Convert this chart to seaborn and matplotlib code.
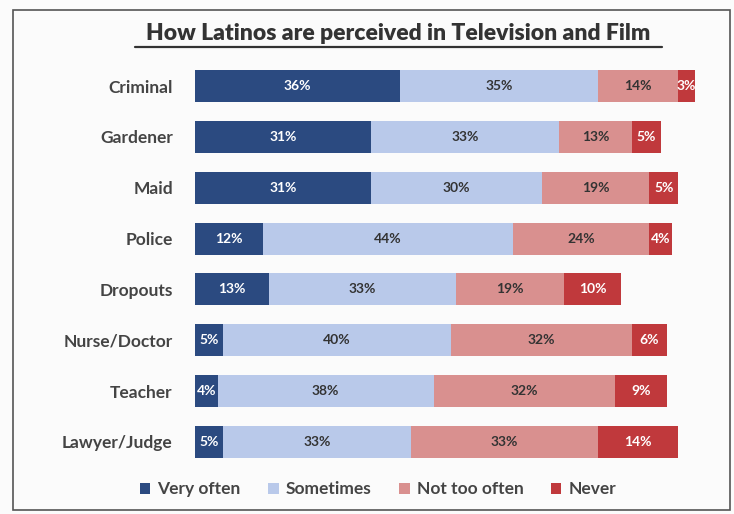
import numpy as np
import pandas as pd
import seaborn as sns
import matplotlib.pyplot as plt
from matplotlib.patches import Rectangle, Patch
from matplotlib.lines import Line2D

categories = ["Criminal", "Gardener", "Maid", "Police", "Dropouts",
              "Nurse/Doctor", "Teacher", "Lawyer/Judge"]
very_often = [36, 31, 31, 12, 13, 5, 4, 5]
sometimes = [35, 33, 30, 44, 33, 40, 38, 33]
not_too_often = [14, 13, 19, 24, 19, 32, 32, 33]
never = [3, 5, 5, 4, 10, 6, 9, 14]

series = ["Very often", "Sometimes", "Not too often", "Never"]
colors = ["#2b4a80", "#b9c9ea", "#d9908f", "#c0393c"]
text_colors = ["white", "#333333", "#333333", "white"]

sns.set_theme(style="white")
plt.rcParams['font.family'] = ['Lato', 'DejaVu Sans']

df = pd.DataFrame({"category": categories, "Very often": very_often,
                   "Sometimes": sometimes, "Not too often": not_too_often,
                   "Never": never})
cum = df[series].cumsum(axis=1)

fig = plt.figure(figsize=(7.34, 5.14), dpi=100)
fig.patch.set_facecolor("#fbfbfb")
ax = fig.add_axes([0.2657, 0.0907, 0.712, 0.7913])
ax.set_facecolor("#fbfbfb")

# stacked bars: draw cumulative totals from the back to the front
for i in reversed(range(len(series))):
    sns.barplot(x=cum[series[i]], y=df["category"], color=colors[i],
                orient="h", width=0.63, ax=ax, saturation=1, linewidth=0)

for i, s in enumerate(series):
    for j, v in enumerate(df[s]):
        center = cum[s][j] - v / 2
        ax.text(center, j, f"{v}%", ha="center", va="center",
                fontsize=10, fontweight="bold", color=text_colors[i])

ax.set_xlim(0, 92)
ax.set_ylim(7.5, -0.5)
ax.set_xlabel("")
ax.set_ylabel("")
ax.set_xticks([])
sns.despine(ax=ax, left=True, bottom=True)
ax.tick_params(axis="y", length=0, pad=16)
for lbl in ax.get_yticklabels():
    lbl.set_fontsize(12.5)
    lbl.set_fontweight("bold")
    lbl.set_color("#444444")

handles = [Patch(facecolor=c, edgecolor="none") for c in colors]
fig.legend(handles, series, loc="center", bbox_to_anchor=(0.515, 0.048),
           ncol=4, frameon=False, handlelength=0.6,
           handleheight=0.6, columnspacing=1.6, handletextpad=0.4,
           labelcolor="#444444", prop={"size": 12.5, "weight": "bold"})

fig.text(0.542, 0.935, "How Latinos are perceived in Television and Film",
         ha="center", va="center", fontsize=16.5, fontweight="heavy",
         color="#333333")
fig.add_artist(Line2D([0.184, 0.902], [0.908, 0.908], color="#333333", lw=1.6))

fig.add_artist(Rectangle((0.018, 0.008), 0.976, 0.972, fill=False,
                         edgecolor="#555555", lw=1.2))

fig.savefig("out.png", dpi=100)
